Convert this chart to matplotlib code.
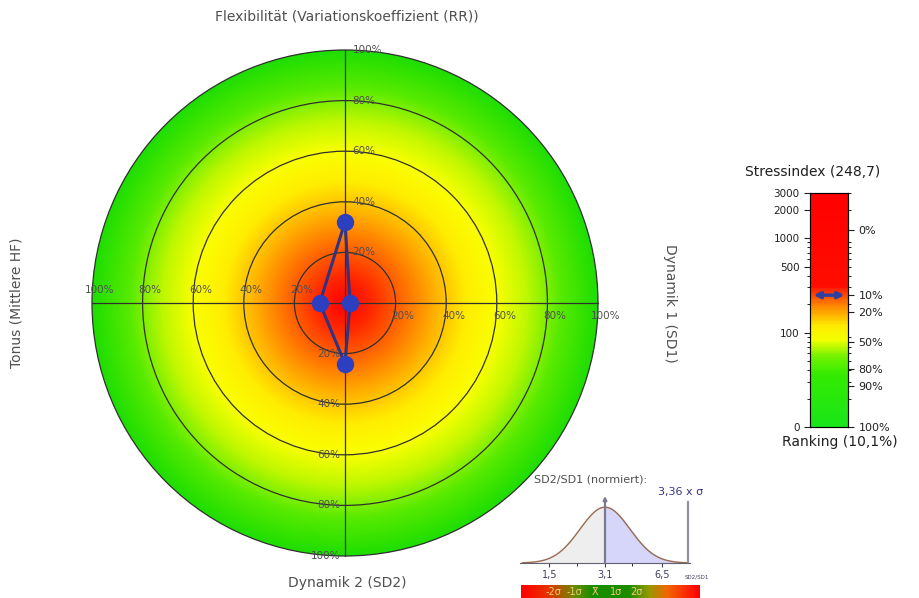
import numpy as np
import matplotlib as mpl
mpl.use('Agg')
import matplotlib.pyplot as plt
from matplotlib.colors import LinearSegmentedColormap
from matplotlib.patches import Circle, FancyArrowPatch

# radar values (percent)
axis_names = ['Flexibilität (Variationskoeffizient (RR))', 'Dynamik 1 (SD1)',
              'Dynamik 2 (SD2)', 'Tonus (Mittlere HF)']
radar_values = [32, 2, 24, 10]   # top, right, bottom, left
ring_levels = [20, 40, 60, 80, 100]

# stress index scale
stress_value = 248.7
ranking = 10.1
stress_ticks = [10, 100, 500, 1000, 2000, 3000]
stress_ticklabels = ['0', '100', '500', '1000', '2000', '3000']
rank_pos = [1214, 251, 166, 80, 41, 27, 10]
rank_labels = ['0%', '10%', '20%', '50%', '80%', '90%', '100%']

# SD2/SD1 inset
ratio_ticks = [1.5, 3.1, 6.5]
ratio_ticklabels = ['1,5', '3,1', '6,5']
ratio_sigma = 3.36
sigma_labels = ['-2σ', '-1σ', 'X̄', '1σ', '2σ']

W, H = 920, 598
fig = plt.figure(figsize=(W / 100, H / 100), dpi=100)
txt = '#505050'


def px(x, y):
    return x / W, 1 - y / H


# ---- radar ----
cx, cy, R = 345, 303, 253
half = 1.1 * R
ax = fig.add_axes([(cx - half) / W, (H - cy - half) / H, 2 * half / W, 2 * half / H])
ax.set_xlim(-1.1, 1.1)
ax.set_ylim(-1.1, 1.1)
ax.set_aspect('equal')
ax.axis('off')

radar_cmap = LinearSegmentedColormap.from_list('radar', [
    (0.0, (1.0, 0.0, 0.0)), (0.1, (1.0, 0.15, 0.0)), (0.22, (1.0, 0.4, 0.0)),
    (0.36, (1.0, 0.7, 0.0)), (0.48, (1.0, 0.93, 0.0)), (0.6, (0.98, 1.0, 0.0)),
    (0.72, (0.75, 0.97, 0.0)), (0.85, (0.35, 0.92, 0.0)), (1.0, (0.12, 0.87, 0.0))])
g = np.linspace(-1, 1, 600)
gx, gy = np.meshgrid(g, g)
rr = np.sqrt(gx ** 2 + gy ** 2)
im = ax.imshow(rr, extent=(-1, 1, -1, 1), origin='lower', cmap=radar_cmap,
               vmin=0, vmax=1, interpolation='bilinear')
clip = Circle((0, 0), 1.0, transform=ax.transData)
im.set_clip_path(clip)

for lv in ring_levels:
    ax.add_patch(Circle((0, 0), lv / 100, fill=False, ec='#303030', lw=0.9))
ax.plot([-1, 1], [0, 0], color='#303030', lw=0.9)
ax.plot([0, 0], [-1, 1], color='#303030', lw=0.9)

for lv in ring_levels:
    r = lv / 100
    lab = '%d%%' % lv
    ax.text(0.03, r, lab, fontsize=7.5, color=txt, ha='left', va='center')
    ax.text(0.03 + r, -0.03, lab, fontsize=7.5, color=txt, ha='center', va='top')
    ax.text(-0.02, -r, lab, fontsize=7.5, color=txt, ha='right', va='center')
    ax.text(-r + 0.03, 0.03, lab, fontsize=7.5, color=txt, ha='center', va='bottom')

t, rgt, b, lft = [v / 100 for v in radar_values]
xs = [0, rgt, 0, -lft, 0]
ys = [t, 0, -b, 0, t]
ax.plot(xs, ys, color='#323282', lw=2.2, zorder=5)
ax.plot(xs[:4], ys[:4], 'o', color='#2b3fc0', ms=11.5, mec='#2b3fc0', zorder=6)

fig.text(*px(347, 17), axis_names[0], fontsize=10, color=txt, ha='center', va='center')
fig.text(*px(347, 583), axis_names[2], fontsize=10, color=txt, ha='center', va='center')
fig.text(*px(17, 303), axis_names[3], fontsize=10, color=txt, ha='center', va='center', rotation=90)
fig.text(*px(670, 303), axis_names[1], fontsize=10, color=txt, ha='center', va='center', rotation=-90)

# ---- stress index bar ----
bx0, bx1, by0, by1 = 810, 848, 193, 427
sax = fig.add_axes([bx0 / W, (H - by1) / H, (bx1 - bx0) / W, (by1 - by0) / H])
sax.set_yscale('log')
sax.set_ylim(10, 3000)
sax.set_xlim(0, 1)
stress_cmap = LinearSegmentedColormap.from_list('stress', [
    (0.0, (0.1, 0.9, 0.1)), (0.22, (0.2, 0.92, 0.0)), (0.3, (0.45, 0.95, 0.0)),
    (0.37, (0.95, 1.0, 0.0)), (0.43, (1.0, 0.92, 0.0)), (0.5, (1.0, 0.6, 0.0)),
    (0.56, (1.0, 0.3, 0.0)), (0.6, (1.0, 0.05, 0.0)), (1.0, (1.0, 0.0, 0.0))])
lv = np.linspace(1, np.log10(3000), 300)
grad = (lv - 1) / (np.log10(3000) - 1)
sax.pcolormesh([0, 1], 10 ** lv, grad[:-1, None], cmap=stress_cmap,
               vmin=0, vmax=1, shading='flat')
sax.set_xticks([])
sax.set_yticks(stress_ticks)
sax.set_yticklabels(stress_ticklabels)
sax.tick_params(axis='y', labelsize=7.5, length=4, colors='#202020')
sax.tick_params(axis='y', which='minor', length=2)
sax.yaxis.set_minor_formatter(mpl.ticker.NullFormatter())
for s in sax.spines.values():
    s.set_color('#303030')
rax = sax.twinx()
rax.set_yscale('log')
rax.set_ylim(10, 3000)
rax.set_yticks(rank_pos)
rax.set_yticklabels(rank_labels)
rax.yaxis.set_minor_formatter(mpl.ticker.NullFormatter())
rax.tick_params(axis='y', labelsize=8, length=4, colors='#202020')
rax.tick_params(axis='y', which='minor', length=2)
arr = FancyArrowPatch((0.02, stress_value), (0.98, stress_value), arrowstyle='<|-|>',
                      mutation_scale=9, color='#3040a0', lw=2.5, zorder=5)
sax.add_patch(arr)
fig.text(*px(813, 172), 'Stressindex (%s)' % ('%.1f' % stress_value).replace('.', ','),
         fontsize=10, color='#202020', ha='center', va='center')
fig.text(*px(840, 442), 'Ranking (%s%%)' % ('%.1f' % ranking).replace('.', ','),
         fontsize=10, color='#202020', ha='center', va='center')

# ---- SD2/SD1 inset ----
ix0, ix1, iy0, iy1 = 520, 690, 496, 563
iax = fig.add_axes([ix0 / W, (H - iy1) / H, (ix1 - ix0) / W, (iy1 - iy0) / H])
iax.set_xlim(-3.4, 3.4)
iax.set_ylim(0, 1.2)
log_sig = (np.log10(ratio_ticks[2]) - np.log10(ratio_ticks[0])) / 4.5
zt = [(np.log10(v) - np.log10(ratio_ticks[1])) / log_sig for v in ratio_ticks]
z = np.linspace(-3.3, 3.3, 300)
pdf = np.exp(-z ** 2 / 2)
iax.fill_between(z[z <= 0], pdf[z <= 0], color='#eeeeee')
iax.fill_between(z[z >= 0], pdf[z >= 0], color='#d6d6fa')
iax.plot(z, pdf, color='#9a6a50', lw=1)
iax.annotate('', xy=(0, 1.2), xytext=(0, 0),
             arrowprops=dict(arrowstyle='-|>', color='#7a7a90', lw=1.6, mutation_scale=5,
                             shrinkA=0, shrinkB=0))
iax.plot([min(ratio_sigma, 3.34)] * 2, [0, 1.1], color='#9090a8', lw=1.6)
for s in ['top', 'right', 'left']:
    iax.spines[s].set_visible(False)
iax.spines['bottom'].set_color('#606070')
iax.set_yticks([])
iax.set_xticks(zt)
iax.set_xticklabels(ratio_ticklabels)
iax.set_xticks([-1.1, 1.1], minor=True)
iax.tick_params(axis='x', labelsize=7, colors='#404060', length=3, pad=2)
iax.tick_params(axis='x', which='minor', length=2)
fig.text(*px(697, 577), 'SD2/SD1', fontsize=4, color='#404060', ha='center', va='center')
fig.text(*px(591, 480), 'SD2/SD1 (normiert):', fontsize=8, color=txt, ha='center', va='center')
fig.text(*px(703, 492), ('%.2f' % ratio_sigma).replace('.', ',') + ' x σ', fontsize=8,
         color='#353580', ha='right', va='center')

# sigma colour strip
cax = fig.add_axes([521 / W, 0, (700 - 521) / W, 13 / H])
sig_cmap = LinearSegmentedColormap.from_list('sig', [
    (0.0, (1.0, 0.0, 0.0)), (0.15, (0.9, 0.2, 0.0)), (0.3, (0.4, 0.55, 0.0)),
    (0.4, (0.1, 0.55, 0.0)), (0.6, (0.1, 0.55, 0.0)), (0.72, (0.6, 0.6, 0.0)),
    (0.82, (0.95, 0.4, 0.0)), (1.0, (1.0, 0.0, 0.0))])
cax.imshow(np.linspace(0, 1, 200)[None, :], aspect='auto', cmap=sig_cmap,
           extent=(-3, 3, 0, 1))
cax.set_xlim(-3, 3)
cax.axis('off')
for i, lab in enumerate(sigma_labels):
    cax.text(-0.52 + 0.7 * (i - 2), 0.45, lab, fontsize=7, color='#f2c880',
             ha='center', va='center')

fig.savefig('out.png', dpi=100)
